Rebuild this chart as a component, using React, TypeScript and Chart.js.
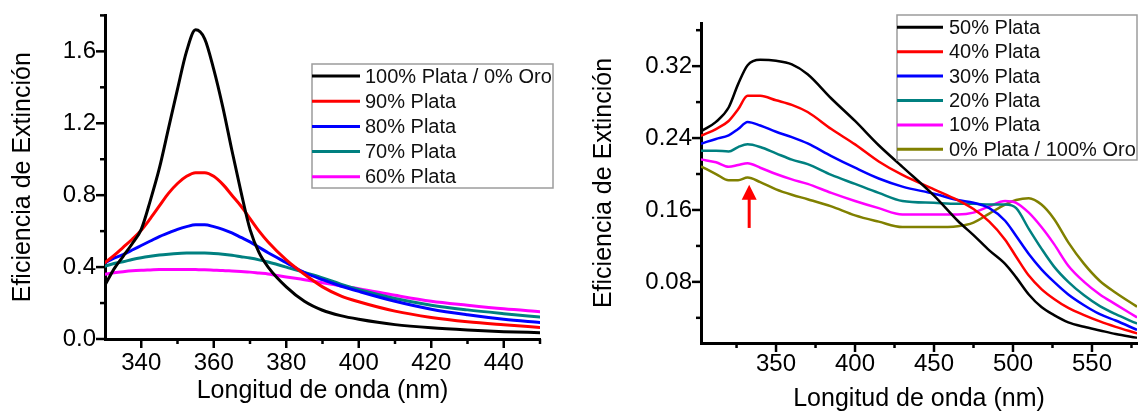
import { useEffect, useRef } from 'react';
import { Chart, registerables } from 'chart.js';

Chart.register(...registerables);

const FONT_FAMILY = '"Liberation Sans", Arial, Helvetica, sans-serif';
const HEIGHT = 414;

// ---- Silver-rich alloys (left panel) ----
const silverWavelengths = [330, 332.5, 335, 337.5, 340, 342.5, 345, 347.5, 350, 352.5, 355, 357.5, 360, 362.5, 365, 367.5, 370, 372.5, 375, 380, 385, 390, 395, 400, 410, 420, 430, 440, 450];
const ag100 = [0.30, 0.39, 0.46, 0.53, 0.61, 0.77, 0.95, 1.17, 1.39, 1.60, 1.72, 1.67, 1.50, 1.29, 1.05, 0.82, 0.61, 0.48, 0.40, 0.29, 0.21, 0.16, 0.13, 0.11, 0.08, 0.062, 0.05, 0.041, 0.035];
const ag90 = [0.425, 0.465, 0.51, 0.555, 0.605, 0.67, 0.74, 0.81, 0.865, 0.905, 0.925, 0.925, 0.905, 0.86, 0.80, 0.74, 0.67, 0.60, 0.54, 0.44, 0.36, 0.29, 0.24, 0.207, 0.155, 0.12, 0.096, 0.079, 0.064];
const ag80 = [0.425, 0.45, 0.47, 0.495, 0.52, 0.545, 0.57, 0.59, 0.61, 0.625, 0.635, 0.635, 0.625, 0.61, 0.59, 0.565, 0.54, 0.51, 0.48, 0.425, 0.37, 0.33, 0.295, 0.265, 0.21, 0.166, 0.135, 0.11, 0.092];
const ag70 = [0.405, 0.42, 0.43, 0.442, 0.452, 0.46, 0.467, 0.472, 0.476, 0.478, 0.479, 0.478, 0.476, 0.472, 0.466, 0.458, 0.45, 0.44, 0.428, 0.40, 0.37, 0.34, 0.305, 0.275, 0.225, 0.188, 0.162, 0.141, 0.122];
const ag60 = [0.36, 0.368, 0.374, 0.379, 0.382, 0.384, 0.386, 0.387, 0.387, 0.387, 0.386, 0.385, 0.383, 0.381, 0.378, 0.375, 0.372, 0.367, 0.362, 0.345, 0.33, 0.313, 0.295, 0.28, 0.243, 0.21, 0.188, 0.168, 0.152];

// ---- Gold-rich alloys (right panel) ----
const goldWavelengths = [303, 312, 320, 326, 332, 340, 350, 360, 370, 385, 400, 415, 430, 450, 465, 475, 485, 495, 502, 510, 518, 526, 535, 545, 555, 565, 578];
const ag50 = [0.248, 0.258, 0.274, 0.300, 0.321, 0.327, 0.326, 0.322, 0.311, 0.284, 0.259, 0.232, 0.208, 0.176, 0.148, 0.132, 0.115, 0.100, 0.085, 0.066, 0.052, 0.043, 0.035, 0.030, 0.026, 0.022, 0.018];
const ag40 = [0.243, 0.250, 0.259, 0.272, 0.287, 0.287, 0.282, 0.277, 0.269, 0.250, 0.233, 0.214, 0.199, 0.183, 0.171, 0.161, 0.147, 0.127, 0.108, 0.087, 0.072, 0.061, 0.051, 0.043, 0.036, 0.030, 0.023];
const ag30 = [0.234, 0.239, 0.243, 0.250, 0.258, 0.254, 0.247, 0.241, 0.234, 0.220, 0.207, 0.195, 0.186, 0.178, 0.171, 0.168, 0.162, 0.148, 0.131, 0.111, 0.094, 0.080, 0.066, 0.054, 0.044, 0.037, 0.027];
const ag20 = [0.226, 0.226, 0.225, 0.230, 0.233, 0.230, 0.223, 0.216, 0.211, 0.199, 0.189, 0.179, 0.170, 0.168, 0.167, 0.167, 0.166, 0.166, 0.162, 0.139, 0.117, 0.097, 0.080, 0.065, 0.053, 0.044, 0.034];
const ag10 = [0.216, 0.213, 0.208, 0.210, 0.212, 0.207, 0.200, 0.194, 0.189, 0.179, 0.170, 0.162, 0.155, 0.155, 0.155, 0.157, 0.164, 0.170, 0.168, 0.157, 0.141, 0.122, 0.098, 0.080, 0.066, 0.055, 0.041];
const au100 = [0.208, 0.200, 0.193, 0.193, 0.196, 0.191, 0.183, 0.177, 0.172, 0.164, 0.154, 0.147, 0.141, 0.141, 0.142, 0.146, 0.156, 0.166, 0.171, 0.173, 0.166, 0.150, 0.124, 0.100, 0.081, 0.068, 0.053];

// Arrow marking the interband shoulder in the gold-rich panel
const arrowWavelength = 333;
const arrowTip = 0.188;
const arrowBase = 0.140;

const X_TITLE = 'Longitud de onda (nm)';
const Y_TITLE = 'Eficiencia de Extinción';

type Series = { label: string; color: string; values: number[] };

type LegendLayout = {
  box: { x: number; y: number; w: number; h: number };
  firstRow: number;
  rowStep: number;
  lineStart: number;
  lineEnd: number;
  textX: number;
};

type PanelSpec = {
  width: number;
  wavelengths: number[];
  series: Series[];
  xMin: number; xMax: number; xStep: number; xMajor: number;
  yMin: number; yMax: number; yStep: number; yMajor: number; yDecimals: number;
  padding: { top: number; right: number; bottom: number; left: number };
  yAxisWidth: number;
  xAxisHeight: number;
  yTitlePad: number;
  xTitlePad: number;
  xTickPad: number;
  lineWidth: number;
  legend: LegendLayout;
  extra?: (chart: any) => void;
};

const isMultiple = (v: number, step: number) => Math.abs(v / step - Math.round(v / step)) < 1e-6;

function buildConfig(spec: PanelSpec) {
  const datasets = spec.series.map((s) => ({
    label: s.label,
    data: spec.wavelengths.map((x, i) => ({ x, y: s.values[i] })),
    borderColor: s.color,
    backgroundColor: s.color,
    borderWidth: spec.lineWidth,
    pointRadius: 0,
    pointHoverRadius: 0,
    fill: false,
    cubicInterpolationMode: 'monotone',
    borderJoinStyle: 'round',
    borderCapStyle: 'round',
  }));

  const tickFont = { family: FONT_FAMILY, size: 24 };
  const titleFont = { family: FONT_FAMILY, size: 25 };

  const decor = {
    id: 'panelDecor',
    afterDraw(chart: any) {
      const { ctx, chartArea } = chart;
      const xs = chart.scales.x;
      const ys = chart.scales.y;
      ctx.save();

      // major / minor tick marks, pointing outward
      ctx.strokeStyle = '#000';
      ctx.lineWidth = 2.5;
      for (const t of xs.ticks) {
        if (t.value === spec.xMin) continue;
        const px = xs.getPixelForValue(t.value);
        const len = isMultiple(t.value, spec.xMajor) ? 9 : 5;
        ctx.beginPath();
        ctx.moveTo(px, chartArea.bottom);
        ctx.lineTo(px, chartArea.bottom + len);
        ctx.stroke();
      }
      for (const t of ys.ticks) {
        const py = ys.getPixelForValue(t.value);
        const len = isMultiple(t.value, spec.yMajor) ? 9 : 5;
        ctx.beginPath();
        ctx.moveTo(chartArea.left, py);
        ctx.lineTo(chartArea.left - len, py);
        ctx.stroke();
      }

      // boxed legend
      const lg = spec.legend;
      ctx.fillStyle = '#fff';
      ctx.fillRect(lg.box.x, lg.box.y, lg.box.w, lg.box.h);
      ctx.strokeStyle = '#9c9c9c';
      ctx.lineWidth = 1.5;
      ctx.strokeRect(lg.box.x, lg.box.y, lg.box.w, lg.box.h);
      ctx.font = `20px ${FONT_FAMILY}`;
      ctx.textBaseline = 'middle';
      ctx.textAlign = 'left';
      chart.data.datasets.forEach((ds: any, i: number) => {
        const y = lg.firstRow + i * lg.rowStep;
        ctx.strokeStyle = ds.borderColor;
        ctx.lineWidth = 3;
        ctx.beginPath();
        ctx.moveTo(lg.lineStart, y);
        ctx.lineTo(lg.lineEnd, y);
        ctx.stroke();
        ctx.fillStyle = '#111';
        ctx.fillText(ds.label, lg.textX, y + 1);
      });

      if (spec.extra) spec.extra(chart);
      ctx.restore();
    },
  };

  return {
    type: 'line',
    data: { datasets },
    plugins: [decor],
    options: {
      responsive: false,
      animation: false,
      devicePixelRatio: 1,
      events: [],
      layout: { padding: spec.padding },
      plugins: { legend: { display: false }, tooltip: { enabled: false } },
      scales: {
        x: {
          type: 'linear',
          min: spec.xMin,
          max: spec.xMax,
          afterFit: (s: any) => { s.height = spec.xAxisHeight; },
          border: { display: true, color: '#000', width: 3 },
          grid: { display: true, drawOnChartArea: false, drawTicks: true, tickLength: 8, tickColor: 'rgba(0,0,0,0)' },
          ticks: {
            stepSize: spec.xStep,
            autoSkip: false,
            includeBounds: false,
            maxRotation: 0,
            minRotation: 0,
            padding: spec.xTickPad,
            color: '#000',
            font: tickFont,
            callback: (v: number) => (isMultiple(v, spec.xMajor) ? String(Math.round(v)) : ''),
          },
          title: { display: true, text: X_TITLE, color: '#000', font: titleFont, padding: { top: 0, bottom: spec.xTitlePad } },
        },
        y: {
          type: 'linear',
          min: spec.yMin,
          max: spec.yMax,
          afterFit: (s: any) => { s.width = spec.yAxisWidth; },
          border: { display: true, color: '#000', width: 3 },
          grid: { display: true, drawOnChartArea: false, drawTicks: true, tickLength: 8, tickColor: 'rgba(0,0,0,0)' },
          ticks: {
            stepSize: spec.yStep,
            autoSkip: false,
            includeBounds: false,
            padding: 1,
            color: '#000',
            font: tickFont,
            callback: (v: number) => (isMultiple(v, spec.yMajor) ? v.toFixed(spec.yDecimals) : ''),
          },
          title: { display: true, text: Y_TITLE, color: '#000', font: titleFont, padding: { top: spec.yTitlePad, bottom: 0 } },
        },
      },
    },
  };
}

const silverPanel: PanelSpec = {
  width: 570,
  wavelengths: silverWavelengths,
  series: [
    { label: '100% Plata / 0% Oro', color: '#000000', values: ag100 },
    { label: '90% Plata', color: '#ff0000', values: ag90 },
    { label: '80% Plata', color: '#0000ff', values: ag80 },
    { label: '70% Plata', color: '#008080', values: ag70 },
    { label: '60% Plata', color: '#ff00ff', values: ag60 },
  ],
  xMin: 330, xMax: 450, xStep: 10, xMajor: 20,
  yMin: 0, yMax: 1.8, yStep: 0.2, yMajor: 0.4, yDecimals: 1,
  padding: { top: 11, right: 30, bottom: 0, left: 0 },
  yAxisWidth: 105,
  xAxisHeight: 75,
  yTitlePad: 8,
  xTitlePad: 8,
  xTickPad: 2,
  lineWidth: 3,
  legend: {
    box: { x: 312, y: 64, w: 241, h: 124 },
    firstRow: 76,
    rowStep: 25.2,
    lineStart: 312,
    lineEnd: 360,
    textX: 365,
  },
};

const goldPanel: PanelSpec = {
  width: 572,
  wavelengths: goldWavelengths,
  series: [
    { label: '50% Plata', color: '#000000', values: ag50 },
    { label: '40% Plata', color: '#ff0000', values: ag40 },
    { label: '30% Plata', color: '#0000ff', values: ag30 },
    { label: '20% Plata', color: '#008080', values: ag20 },
    { label: '10% Plata', color: '#ff00ff', values: ag10 },
    { label: '0% Plata / 100% Oro', color: '#808000', values: au100 },
  ],
  xMin: 302.5, xMax: 578.5, xStep: 25, xMajor: 50,
  yMin: 0.012, yMax: 0.368, yStep: 0.04, yMajor: 0.08, yDecimals: 2,
  padding: { top: 23, right: 5, bottom: 0, left: 0 },
  yAxisWidth: 131,
  xAxisHeight: 71,
  yTitlePad: 19,
  xTitlePad: 0,
  xTickPad: -1,
  lineWidth: 2.5,
  legend: {
    box: { x: 327, y: 15, w: 240, h: 145 },
    firstRow: 27.3,
    rowStep: 24.4,
    lineStart: 327,
    lineEnd: 373,
    textX: 379,
  },
  extra: (chart: any) => {
    const { ctx } = chart;
    const xs = chart.scales.x;
    const ys = chart.scales.y;
    const px = xs.getPixelForValue(arrowWavelength);
    const tip = ys.getPixelForValue(arrowTip);
    const base = ys.getPixelForValue(arrowBase);
    ctx.fillStyle = '#ff0000';
    ctx.beginPath();
    ctx.moveTo(px, tip);
    ctx.lineTo(px - 7.5, tip + 15);
    ctx.lineTo(px + 7.5, tip + 15);
    ctx.closePath();
    ctx.fill();
    ctx.fillRect(px - 1.5, tip + 14, 3, base - tip - 14);
  },
};

function Panel({ spec, left }: { spec: PanelSpec; left: number }) {
  const ref = useRef<HTMLCanvasElement>(null);
  useEffect(() => {
    if (!ref.current) return;
    const chart = new Chart(ref.current, buildConfig(spec) as any);
    return () => chart.destroy();
  }, [spec]);
  return (
    <div style={{ position: 'absolute', left, top: 0, width: spec.width, height: HEIGHT }}>
      <canvas
        ref={ref}
        width={spec.width}
        height={HEIGHT}
        style={{ display: 'block', width: spec.width, height: HEIGHT }}
      />
    </div>
  );
}

export default function App() {
  return (
    <div style={{ position: 'absolute', left: 0, top: 0, width: 1142, height: HEIGHT, background: '#fff', overflow: 'hidden' }}>
      <Panel spec={silverPanel} left={0} />
      <Panel spec={goldPanel} left={570} />
    </div>
  );
}
